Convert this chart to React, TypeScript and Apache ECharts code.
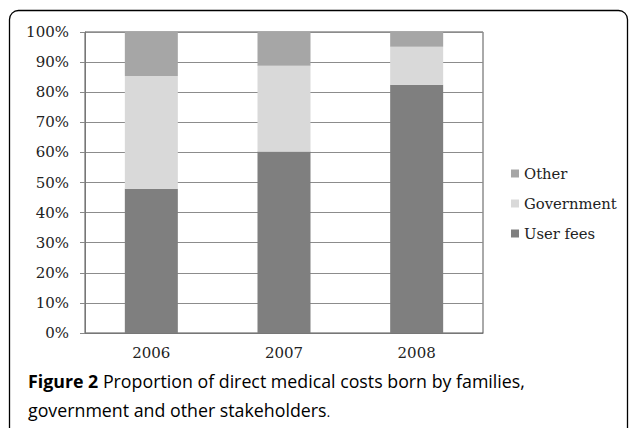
import React, { useEffect, useRef } from "react";
import * as echarts from "echarts";

const categories = ["2006", "2007", "2008"];
const userFees = [47.9, 60.3, 82.5];
const government = [37.5, 28.5, 12.6];
const other = [14.6, 11.2, 4.9];
const legendOrder = ["Other", "Government", "User fees"];
const captionBold = "Figure 2";
const captionLine1 = " Proportion of direct medical costs born by families,";
const captionLine2 = "government and other stakeholders";

const SERIF = "'DejaVu Serif', serif";
const SANS = "'Open Sans', sans-serif";

export default function App() {
  const ref = useRef<HTMLDivElement>(null);
  useEffect(() => {
    if (!ref.current) return;
    const chart = echarts.init(ref.current, undefined, { renderer: "svg" });
    const barCommon = {
      type: "bar" as const,
      stack: "total",
      barWidth: 53,
      emphasis: { disabled: true },
    };
    chart.setOption({
      animation: false,
      backgroundColor: "#ffffff",
      grid: { left: 85, top: 32, width: 398, height: 301, show: true, borderColor: "#555", borderWidth: 1, backgroundColor: "transparent" },
      legend: {
        data: legendOrder,
        orient: "vertical",
        left: 506,
        top: 160,
        itemWidth: 8,
        itemHeight: 8,
        itemGap: 13,
        icon: "rect",
        textStyle: { fontFamily: SERIF, fontSize: 14.8, color: "#222", lineHeight: 17 },
        selectedMode: false,
      },
      xAxis: {
        type: "category",
        data: categories,
        axisLine: { show: true, lineStyle: { color: "#777", width: 1 } },
        axisTick: { show: false },
        axisLabel: { fontFamily: SERIF, fontSize: 15, color: "#222", margin: 12 },
      },
      yAxis: {
        type: "value",
        min: 0,
        max: 100,
        interval: 10,
        axisLine: { show: true, lineStyle: { color: "#777", width: 1 } },
        axisTick: { show: true, length: 5, lineStyle: { color: "#888" } },
        splitLine: { show: true, lineStyle: { color: "#8c8c8c", width: 1 } },
        axisLabel: { fontFamily: SERIF, fontSize: 15, color: "#222", margin: 16, formatter: "{value}%" },
      },
      series: [
        { ...barCommon, name: "User fees", data: userFees, itemStyle: { color: "#7f7f7f" } },
        { ...barCommon, name: "Government", data: government, itemStyle: { color: "#d9d9d9" } },
        { ...barCommon, name: "Other", data: other, itemStyle: { color: "#a6a6a6" } },
      ],
      graphic: [
        {
          type: "rect",
          shape: { x: 9.5, y: 10.5, width: 618, height: 430, r: 9 },
          style: { fill: "none", stroke: "#000", lineWidth: 1.3 },
          silent: true,
        },
        {
          type: "text",
          x: 28,
          y: 381,
          style: {
            text: "{b|" + captionBold + "}" + captionLine1,
            fontFamily: SANS,
            fontSize: 17.8,
            fill: "#000",
            verticalAlign: "middle",
            rich: { b: { fontFamily: SANS, fontSize: 17.8, fontWeight: "bold", fill: "#000" } },
          },
        },
        {
          type: "text",
          x: 28,
          y: 410,
          style: {
            text: captionLine2 + "{p|.}",
            fontFamily: SANS,
            fontSize: 17.8,
            fill: "#000",
            verticalAlign: "middle",
            rich: { p: { fontFamily: SERIF, fontSize: 12, fill: "#000", verticalAlign: "bottom", lineHeight: 12 } },
          },
        },
      ],
    });
    return () => chart.dispose();
  }, []);
  return <div ref={ref} style={{ width: 629, height: 428, position: "absolute", left: 0, top: 0 }} />;
}
